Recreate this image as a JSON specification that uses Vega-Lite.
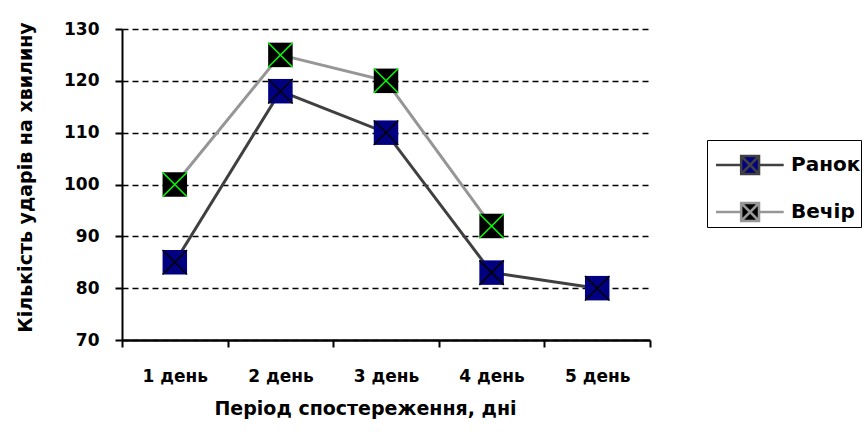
{
  "$schema": "https://vega.github.io/schema/vega-lite/v6.json",
  "width": 528,
  "height": 311,
  "autosize": "none",
  "padding": {"left": 122, "top": 29, "right": 217, "bottom": 104},
  "background": "white",
  "config": {
    "view": {"stroke": null},
    "font": "DejaVu Sans",
    "legend": {
      "orient": "none",
      "legendX": 585,
      "legendY": 111,
      "title": null
    }
  },
  "data": {
    "values": [
      {"day": "1 день", "series": "Ранок", "value": 85},
      {"day": "2 день", "series": "Ранок", "value": 118},
      {"day": "3 день", "series": "Ранок", "value": 110},
      {"day": "4 день", "series": "Ранок", "value": 83},
      {"day": "5 день", "series": "Ранок", "value": 80},
      {"day": "1 день", "series": "Вечір", "value": 100},
      {"day": "2 день", "series": "Вечір", "value": 125},
      {"day": "3 день", "series": "Вечір", "value": 120},
      {"day": "4 день", "series": "Вечір", "value": 92}
    ]
  },
  "encoding": {
    "x": {
      "field": "day",
      "type": "nominal",
      "sort": ["1 день", "2 день", "3 день", "4 день", "5 день"],
      "scale": {"paddingInner": 0, "paddingOuter": 0},
      "axis": {
        "title": "Період спостереження, дні",
        "labelAngle": 0,
        "tickBand": "extent",
        "domainColor": "black",
        "domainWidth": 2.5,
        "tickColor": "black",
        "tickWidth": 2,
        "tickSize": 7,
        "labelFont": "DejaVu Sans",
        "labelFontWeight": "bold",
        "labelFontSize": 17,
        "labelColor": "black",
        "labelPadding": 21,
        "titleFont": "DejaVu Sans",
        "titleFontWeight": "bold",
        "titleFontSize": 19,
        "titleColor": "black",
        "titleX": 243,
        "titleY": 68,
        "titleBaseline": "middle",
        "titleAlign": "center",
        "grid": false
      }
    },
    "y": {
      "field": "value",
      "type": "quantitative",
      "scale": {"domain": [70, 130], "nice": false, "zero": false},
      "axis": {
        "title": "Кількість ударів на хвилину",
        "values": [70, 80, 90, 100, 110, 120, 130],
        "domainColor": "black",
        "domainWidth": 2,
        "tickColor": "black",
        "tickWidth": 2,
        "tickSize": 7,
        "labelFont": "DejaVu Sans",
        "labelFontWeight": "bold",
        "labelFontSize": 17,
        "labelColor": "black",
        "labelPadding": 16,
        "titleFont": "DejaVu Sans",
        "titleFontWeight": "bold",
        "titleFontSize": 19,
        "titleColor": "black",
        "titleX": -97,
        "titleY": 148,
        "titleAngle": -90,
        "titleBaseline": "middle",
        "titleAlign": "center",
        "grid": true,
        "gridColor": "black",
        "gridWidth": 1.5,
        "gridDash": [6, 4]
      }
    }
  },
  "layer": [
    {
      "mark": {"type": "line", "strokeWidth": 3},
      "encoding": {
        "stroke": {
          "field": "series",
          "type": "nominal",
          "scale": {"domain": ["Ранок", "Вечір"], "range": ["#404040", "#969696"]},
          "legend": {
            "symbolType": "M-0.68,0H0.39M1.15,0H2.2M0.39,-0.383H1.15V0.383H0.39ZM0.39,-0.383L1.15,0.383M0.39,0.383L1.15,-0.383",
            "symbolSize": 2209,
            "symbolStrokeWidth": 2.5,
            "labelFont": "DejaVu Sans",
            "labelFontWeight": "bold",
            "labelFontSize": 20,
            "labelColor": "black",
            "labelOffset": 34,
            "padding": 0,
            "rowPadding": 7,
            "strokeColor": "black",
            "fillColor": "white"
          }
        }
      }
    },
    {
      "mark": {"type": "point", "shape": "square", "filled": true, "size": 600, "opacity": 1},
      "encoding": {
        "fill": {
          "field": "series",
          "type": "nominal",
          "scale": {"domain": ["Ранок", "Вечір"], "range": ["#000080", "#000000"]},
          "legend": {
            "symbolType": "M-0.68,0H0.39M1.15,0H2.2M0.39,-0.383H1.15V0.383H0.39ZM0.39,-0.383L1.15,0.383M0.39,0.383L1.15,-0.383",
            "symbolSize": 2209,
            "symbolStrokeWidth": 2.5,
            "labelFont": "DejaVu Sans",
            "labelFontWeight": "bold",
            "labelFontSize": 20,
            "labelColor": "black",
            "labelOffset": 34,
            "padding": 0,
            "rowPadding": 7,
            "strokeColor": "black",
            "fillColor": "white"
          }
        }
      }
    },
    {
      "mark": {"type": "point", "shape": "M-1,-1L1,1M-1,1L1,-1", "filled": false, "size": 600, "strokeWidth": 1.5, "opacity": 1},
      "encoding": {
        "color": {
          "field": "series",
          "type": "nominal",
          "scale": {"domain": ["Ранок", "Вечір"], "range": ["#000000", "#00ff00"]},
          "legend": null
        }
      }
    }
  ]
}
